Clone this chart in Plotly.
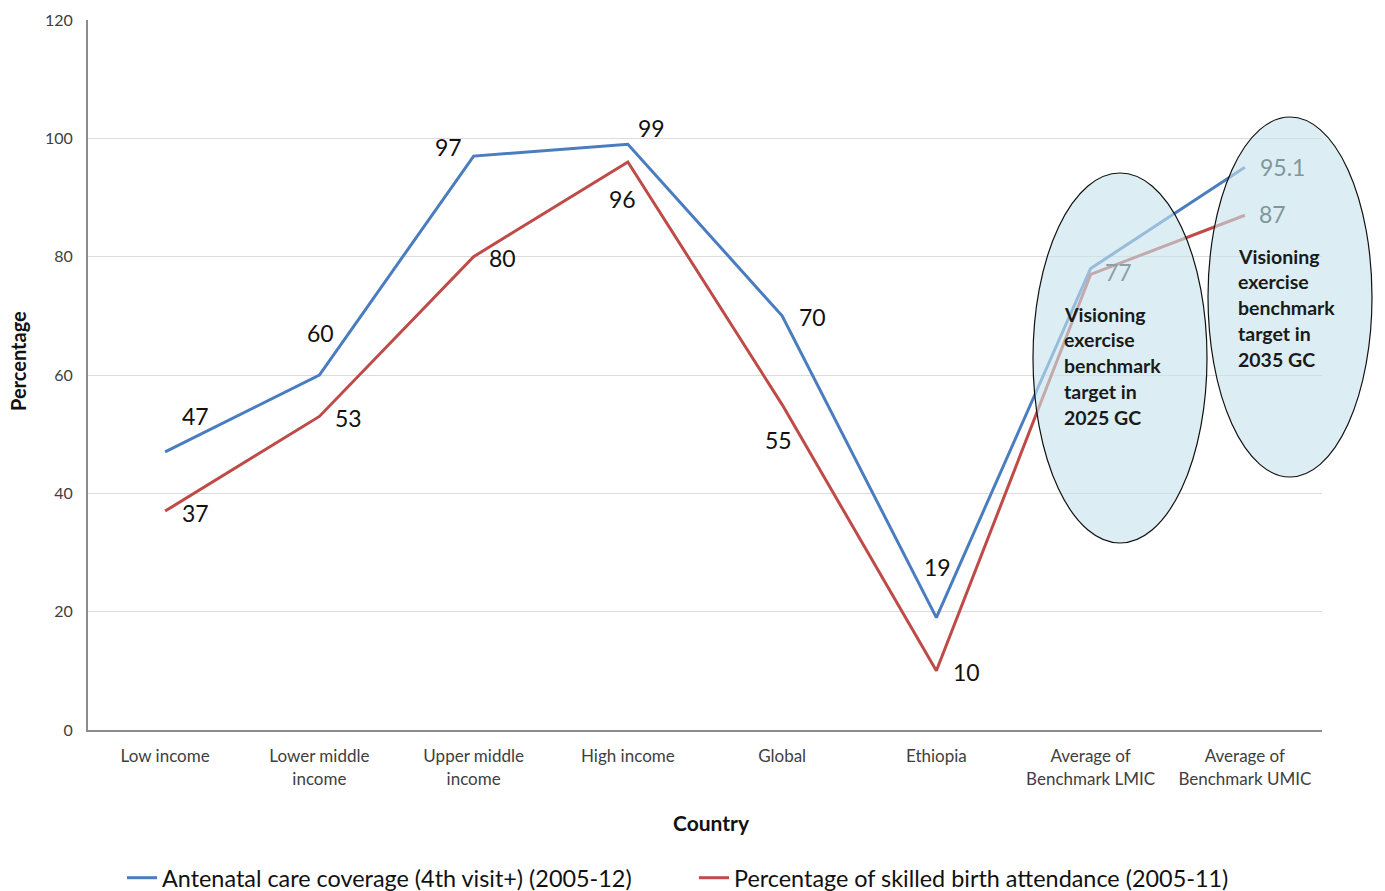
import plotly.graph_objects as go

categories = ["Low income", "Lower middle<br>income", "Upper middle<br>income", "High income",
              "Global", "Ethiopia", "Average of<br>Benchmark LMIC", "Average of<br>Benchmark UMIC"]
anc_values = [47, 60, 97, 99, 70, 19, 78, 95.1]
sba_values = [37, 53, 80, 96, 55, 10, 77, 87]
anc_labels = ["47", "60", "97", "99", "70", "19", "", "95.1"]
sba_labels = ["37", "53", "80", "96", "55", "10", "77", "87"]
y_ticks = [0, 20, 40, 60, 80, 100, 120]
note_lines = ["Visioning", "exercise", "benchmark", "target in"]
note_years = ["2025 GC", "2035 GC"]

# label offsets (pixels) - style only
anc_off = [(30, 36), (1, 42), (-25, 9), (24, 16), (30, -1), (1, 51), (0, 0), (38, 0)]
sba_off = [(30, -2), (29, -2), (29, -1), (-5, -37), (-4, -35), (30, -1), (28, 2), (28, 1)]
anc_lbl_col = ["#111"] * 6 + ["#111", "#7f979c"]
sba_lbl_col = ["#111"] * 6 + ["#8d9fa3", "#7f979c"]

BLUE = "#4a7dbf"
RED = "#be4b48"
FONT = "Lato, 'Open Sans', sans-serif"

fig = go.Figure()
fig.add_trace(go.Scatter(x=categories, y=anc_values, mode="lines",
                         name="Antenatal care coverage (4th visit+) (2005-12)",
                         line=dict(color=BLUE, width=3)))
fig.add_trace(go.Scatter(x=categories, y=sba_values, mode="lines",
                         name="Percentage of skilled birth attendance (2005-11)",
                         line=dict(color=RED, width=3)))

annotations = []
for cat, v, t, (dx, dy), c in zip(categories, anc_values, anc_labels, anc_off, anc_lbl_col):
    if t:
        annotations.append(dict(x=cat, y=v, text=t, showarrow=False, xshift=dx, yshift=dy,
                                font=dict(size=23, color=c, family=FONT)))
for cat, v, t, (dx, dy), c in zip(categories, sba_values, sba_labels, sba_off, sba_lbl_col):
    if t:
        annotations.append(dict(x=cat, y=v, text=t, showarrow=False, xshift=dx, yshift=dy,
                                font=dict(size=23, color=c, family=FONT)))


def px_x(p):
    return (p - 88) / 1234


def px_y(p):
    return (730 - p) / 710


# ellipse texts, one annotation per line
note_pos = [(1062, 314), (1236, 256)]
for (lx, ly), yr in zip(note_pos, note_years):
    for i, line in enumerate(note_lines + [yr]):
        annotations.append(dict(xref="paper", yref="paper", x=px_x(lx), y=px_y(ly + 25.8 * i),
                                xanchor="left", yanchor="middle", showarrow=False,
                                text="<b>" + line + "</b>",
                                font=dict(size=19.5, color="#1a1a1a", family=FONT)))
# axis titles
annotations.append(dict(xref="paper", yref="paper", x=px_x(18), y=px_y(361),
                        xanchor="center", yanchor="middle", textangle=-90, showarrow=False,
                        text="<b>Percentage</b>", font=dict(size=20, color="#111", family=FONT)))
annotations.append(dict(xref="paper", yref="paper", x=px_x(712), y=px_y(822),
                        xanchor="center", yanchor="middle", showarrow=False,
                        text="<b>Country</b>", font=dict(size=21, color="#111", family=FONT)))

shapes = [
    dict(type="circle", xref="paper", yref="paper", layer="above",
         x0=px_x(1033), x1=px_x(1207), y0=px_y(543), y1=px_y(173),
         fillcolor="rgba(198,228,236,0.62)", line=dict(color="#111", width=1.2)),
    dict(type="circle", xref="paper", yref="paper", layer="above",
         x0=px_x(1208), x1=px_x(1372), y0=px_y(477), y1=px_y(117),
         fillcolor="rgba(198,228,236,0.62)", line=dict(color="#111", width=1.2)),
]

fig.update_layout(
    width=1385, height=891,
    margin=dict(l=88, r=63, t=20, b=161, autoexpand=False),
    paper_bgcolor="white", plot_bgcolor="white",
    font=dict(family=FONT, color="#404040"),
    showlegend=True,
    legend=dict(orientation="h", x=px_x(122), y=px_y(878),
                xanchor="left", yanchor="middle",
                font=dict(size=23.4, color="#111", family=FONT),
                entrywidth=527, entrywidthmode="pixels",
                itemwidth=30, tracegroupgap=0),
    annotations=annotations,
    shapes=shapes,
    xaxis=dict(type="category", range=[-0.5, 7.5], showgrid=False,
               showline=True, linecolor="#8c8c8c", linewidth=2, ticks="",
               tickfont=dict(size=17, color="#404040", family=FONT),
               ticklabelstandoff=10, fixedrange=True),
    yaxis=dict(range=[0, 120], tickvals=y_ticks, showgrid=True, gridcolor="#dcdcdc",
               gridwidth=1, showline=True, linecolor="#8c8c8c", linewidth=2,
               zeroline=False, ticks="",
               tickfont=dict(size=16, color="#404040", family=FONT),
               ticklabelstandoff=10),
)

# remove the default 8px page margin so the figure fills the window exactly
fig.write_html("out.html",
               config={"displayModeBar": False},
               post_script="document.body.style.margin='0';document.body.style.overflow='hidden';")
